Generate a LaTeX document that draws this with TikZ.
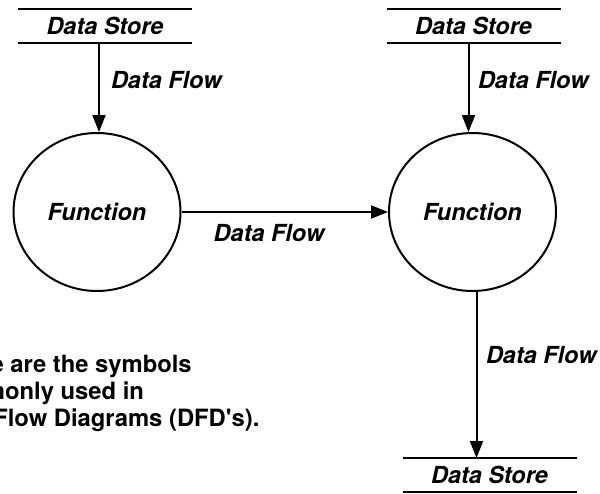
\documentclass[tikz,border=0pt]{standalone}
\usepackage{fontspec}
\setmainfont{TeX Gyre Heros}
\usepackage{tikz}
\usetikzlibrary{shapes,arrows.meta}
\tikzstyle{store} = [rectangle, inner sep=0pt, minimum width=172pt, minimum height=32pt,
font=\fontsize{23.5}{28}\selectfont\bfseries\itshape]
\tikzstyle{func} = [ellipse, draw, minimum width=167pt, minimum height=158pt,
font=\fontsize{23.5}{28}\selectfont\bfseries\itshape]
\tikzstyle{flow} = [inner sep=0pt, font=\fontsize{23.5}{28}\selectfont\bfseries\itshape]
\tikzstyle{note} = [inner sep=0pt, align=left, font=\fontsize{23.8}{27}\selectfont\bfseries]
\tikzstyle{line} = [draw, -{Triangle[length=17pt,width=13pt]}]

\begin{document}
\begin{tikzpicture}[x=1pt, y=-1pt, line width=2pt]
	\useasboundingbox (0,0) rectangle (600,493);
	\node [store] (storeA) at (105,26) {Data Store};
	\node [store] (storeB) at (473.5,26) {Data Store};
	\node [store] (storeC) at (489.5,475) {Data Store};
	\node [func] (funcA) at (97,212) {Function};
	\node [func] (funcB) at (472.5,212) {Function};
	\node [flow, anchor=west] (flowA) at (110,80) {Data Flow};
	\node [flow, anchor=west] (flowB) at (477,80) {Data Flow};
	\node [flow] (flowC) at (269,233) {Data Flow};
	\node [flow, anchor=west] (flowD) at (485,355) {Data Flow};
	% the note runs off the left edge, as in the original
	\node [note, anchor=base west] (note) at (-66,426)
	{These are the symbols\\commonly used in\\Data Flow Diagrams (DFD\textquotesingle s).};
	
	\foreach \s in {storeA,storeB,storeC}
	\draw (\s.north west) -- (\s.north east) (\s.south west) -- (\s.south east);
	
	\path [line] ([xshift=2pt]storeA.south -| funcA.north) -- ([xshift=2pt]funcA.north);
	\path [line] ([xshift=-4pt]storeB.south -| funcB.north) -- ([xshift=-4pt]funcB.north);
	\path [line] (funcA.east) -- (funcB.west);
	\path [line] ([xshift=4pt]funcB.south) -- ([xshift=4pt]storeC.north -| funcB.south);
\end{tikzpicture}
\end{document}
